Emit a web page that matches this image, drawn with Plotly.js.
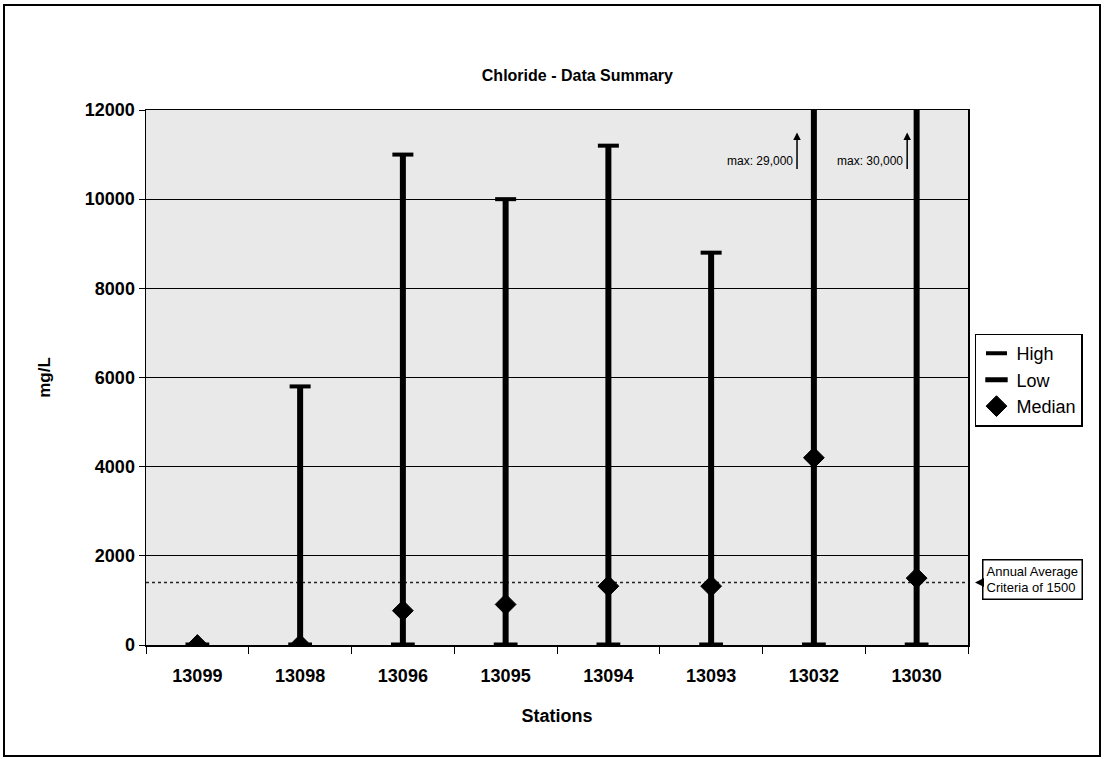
<!DOCTYPE html>
<html>
<head>
<meta charset="utf-8">
<script src="https://cdn.plot.ly/plotly-3.0.1.min.js"></script>
<style>
  html, body { margin: 0; padding: 0; background: #fff; }
  #wrap { position: relative; width: 1104px; height: 759px; }
  #chart { width: 1104px; height: 759px; }
  #frame { position: absolute; left: 3px; top: 4px; width: 1094px; height: 749px; border: 2px solid #000; pointer-events: none; }
</style>
</head>
<body>
<div id="wrap"><div id="chart"></div><div id="frame"></div></div>
<script>
// ---- data ----
const stations = ["13099", "13098", "13096", "13095", "13094", "13093", "13032", "13030"];
const highVals = [0, 5800, 11000, 10000, 11200, 8800, 29000, 30000];
const lowVals = [0, 0, 0, 0, 0, 0, 0, 0];
const medianVals = [0, 0, 770, 910, 1320, 1320, 4200, 1500];
const criteria = 1400;
const yTicks = [0, 2000, 4000, 6000, 8000, 10000, 12000];

// vertical range segments, built from the arrays
const segX = [], segY = [];
stations.forEach((s, i) => { segX.push(s, s, null); segY.push(lowVals[i], highVals[i], null); });

const font = "Arial, 'Liberation Sans', sans-serif";

const traces = [
  { x: segX, y: segY, type: "scatter", mode: "lines", line: { color: "#000", width: 6 },
    showlegend: false, hoverinfo: "skip", connectgaps: false },
  { x: stations, y: highVals, type: "scatter", mode: "markers", name: "High",
    marker: { symbol: "line-ew", size: 15, color: "#000", line: { color: "#000", width: 4 } } },
  { x: stations, y: lowVals, type: "scatter", mode: "markers", name: "Low",
    marker: { symbol: "line-ew", size: 17, color: "#000", line: { color: "#000", width: 5 } } },
  { x: stations, y: medianVals, type: "scatter", mode: "markers", name: "Median",
    marker: { symbol: "diamond", size: 16, color: "#000", line: { color: "#000", width: 1 } } }
];

const layout = {
  width: 1104, height: 759,
  margin: { l: 146, r: 136, t: 110, b: 114 },
  paper_bgcolor: "#fff",
  plot_bgcolor: "#e9e9e9",
  font: { family: font, color: "#000" },
  title: { text: "<b>Chloride - Data Summary</b>", x: 0.523, xref: "container", y: 0.901, yref: "container",
           xanchor: "center", yanchor: "middle", font: { family: "'Liberation Sans Narrow', Arial, sans-serif", size: 16, color: "#000" } },
  xaxis: {
    type: "category", categoryorder: "array", categoryarray: stations,
    range: [-0.5, stations.length - 0.5],
    showline: true, linecolor: "#000", linewidth: 1.5, mirror: true,
    ticks: "outside", tickson: "boundaries", ticklen: 7, tickcolor: "#000",
    ticklabelstandoff: 14,
    tickfont: { family: font, size: 18, color: "#000", weight: "bold" },
    showgrid: false, zeroline: false,
    title: { text: "<b>Stations</b>", font: { family: font, size: 18 }, standoff: 24 }
  },
  yaxis: {
    range: [0, 12000], tickvals: yTicks, ticktext: yTicks.map(String),
    showline: true, linecolor: "#000", linewidth: 1.5, mirror: true,
    ticks: "outside", ticklen: 6, tickcolor: "#000",
    tickfont: { family: font, size: 18, color: "#000", weight: "bold" },
    showgrid: true, gridcolor: "#000", gridwidth: 1, zeroline: false,
    title: { text: "<b>mg/L</b>", font: { family: font, size: 17 }, standoff: 30 }
  },
  legend: {
    x: 1.0085, xanchor: "left", y: 0.582, yanchor: "top",
    bgcolor: "#fff", bordercolor: "#000", borderwidth: 1.5,
    font: { family: font, size: 18, color: "#000" },
    itemwidth: 30, tracegroupgap: 2
  },
  shapes: [
    { type: "line", xref: "paper", x0: 0, x1: 1, yref: "y", y0: criteria, y1: criteria,
      line: { color: "#222", width: 1.5, dash: "dot" }, layer: "below" }
  ],
  annotations: [
    { xref: "paper", yref: "paper", x: 0.789, y: 0.905, xanchor: "right", yanchor: "middle",
      text: "max: 29,000", showarrow: false, font: { family: font, size: 12 } },
    { xref: "paper", yref: "paper", x: 0.792, y: 0.958, ax: 0, ay: 38, text: "",
      showarrow: true, arrowhead: 2, arrowsize: 1, arrowwidth: 1.5, arrowcolor: "#000" },
    { xref: "paper", yref: "paper", x: 0.923, y: 0.905, xanchor: "right", yanchor: "middle",
      text: "max: 30,000", showarrow: false, font: { family: font, size: 12 } },
    { xref: "paper", yref: "paper", x: 0.926, y: 0.958, ax: 0, ay: 38, text: "",
      showarrow: true, arrowhead: 2, arrowsize: 1, arrowwidth: 1.5, arrowcolor: "#000" },
    { xref: "paper", yref: "paper", x: 1.017, y: 0.1224, xanchor: "left", yanchor: "middle",
      text: "Annual Average<br>Criteria of 1500", align: "left", showarrow: false,
      bgcolor: "#fff", bordercolor: "#000", borderwidth: 1.5, borderpad: 3,
      font: { family: font, size: 13 } },
    { xref: "paper", yref: "y", x: 1.0085, y: criteria, ax: 9, ay: 0, text: "",
      showarrow: true, arrowhead: 2, arrowsize: 1.2, arrowwidth: 1.5, arrowcolor: "#000" }
  ]
};

Plotly.newPlot("chart", traces, layout, { displayModeBar: false, staticPlot: true });
</script>
</body>
</html>
